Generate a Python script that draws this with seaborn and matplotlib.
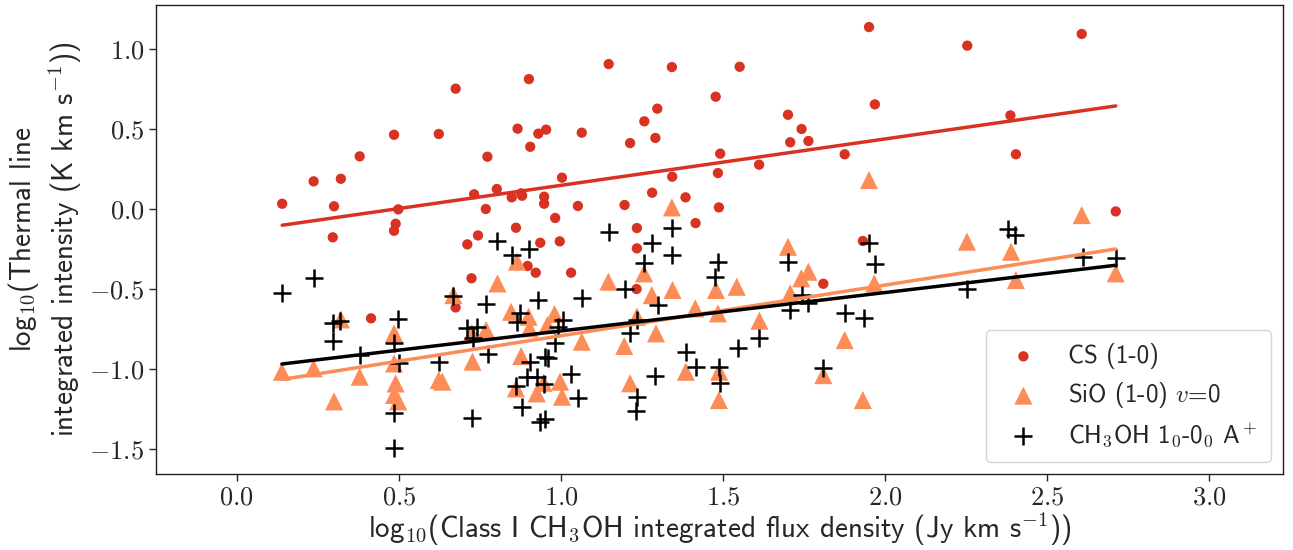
import numpy as np
import pandas as pd
import seaborn as sns
import matplotlib
matplotlib.use("Agg")
import matplotlib.pyplot as plt
from matplotlib.ticker import FuncFormatter

# CS (1-0) points
cs_x = [0.140, 0.237, 0.321, 0.300, 0.296, 0.379, 0.485, 0.498, 0.490, 0.485,
        0.414, 0.623, 0.675, 0.732, 0.773, 0.768, 0.744, 0.802, 0.848, 0.877,
        0.880, 0.861, 0.866, 0.901, 0.905, 0.930, 0.954, 1.064, 1.147, 1.003,
        0.948, 0.948, 0.982, 1.052, 0.936, 0.996, 1.213, 1.257, 1.297, 1.291,
        1.196, 1.281, 1.234, 1.342, 1.343, 1.384, 1.415, 1.477, 1.491, 1.484,
        1.487, 1.551, 1.611, 1.700, 1.707, 1.742, 1.763, 1.875, 1.950, 1.968,
        1.931, 1.809, 2.253, 2.606, 2.386, 2.403, 2.711, 0.711, 0.897, 0.922,
        1.031, 0.724, 0.675, 1.234, 1.233]
cs_y = [0.035, 0.175, 0.191, 0.019, -0.175, 0.331, 0.466, 0.000, -0.090, -0.134,
        -0.681, 0.471, 0.754, 0.094, 0.329, 0.002, -0.163, 0.127, 0.075, 0.100,
        0.085, -0.115, 0.504, 0.814, 0.391, 0.473, 0.498, 0.479, 0.908, 0.198,
        0.079, 0.035, -0.054, 0.021, -0.209, -0.200, 0.414, 0.550, 0.629, 0.446,
        0.027, 0.104, -0.117, 0.889, 0.204, 0.075, -0.086, 0.704, 0.348, 0.227,
        0.012, 0.891, 0.279, 0.591, 0.419, 0.502, 0.427, 0.344, 1.139, 0.656,
        -0.198, -0.465, 1.023, 1.096, 0.587, 0.344, -0.013, -0.219, -0.354, -0.396,
        -0.396, -0.431, -0.613, -0.244, -0.498]

# SiO (1-0) v=0 points
sio_x = [0.139, 0.237, 0.300, 0.321, 0.379, 0.485, 0.485, 0.490, 0.498, 0.485,
         0.623, 0.668, 0.864, 0.804, 1.146, 1.256, 1.280, 1.344, 1.478, 1.542,
         1.414, 1.484, 1.234, 1.293, 1.195, 1.064, 0.846, 0.900, 0.980, 0.958,
         0.903, 0.769, 0.725, 0.727, 0.634, 0.877, 0.861, 0.946, 0.997, 0.925,
         1.003, 1.213, 1.385, 1.488, 1.487, 1.342, 1.950, 2.606, 1.700, 1.763,
         1.741, 1.707, 1.966, 1.612, 1.875, 1.809, 1.931, 2.252, 2.388, 2.403,
         2.711]
sio_y = [-1.015, -0.994, -1.200, -0.688, -1.046, -0.775, -0.963, -1.088, -1.200, -1.160,
         -1.067, -0.536, -0.327, -0.463, -0.452, -0.400, -0.536, -0.504, -0.504, -0.484,
         -0.619, -0.650, -0.671, -0.775, -0.854, -0.827, -0.640, -0.671, -0.654, -0.723,
         -0.744, -0.754, -0.775, -0.952, -1.077, -0.917, -1.119, -1.084, -1.077, -1.150,
         -1.171, -1.087, -1.015, -1.015, -1.192, 0.012, 0.183, -0.036, -0.234, -0.390,
         -0.431, -0.525, -0.463, -0.696, -0.817, -1.036, -1.192, -0.202, -0.265, -0.442,
         -0.400]

# CH3OH 1_0-0_0 A+ points
ch3oh_x = [0.139, 0.237, 0.296, 0.319, 0.296, 0.379, 0.498, 0.485, 0.499, 0.485,
           0.485, 0.623, 0.668, 0.803, 0.900, 0.848, 1.148, 1.343, 1.281, 1.343,
           1.256, 1.483, 1.476, 0.769, 0.928, 1.065, 1.196, 1.299, 0.874, 0.864,
           0.709, 0.740, 0.730, 1.006, 0.992, 1.234, 1.213, 0.982, 0.774, 0.905,
           0.951, 0.960, 1.031, 0.894, 0.925, 0.948, 0.862, 1.052, 0.879, 0.725,
           0.936, 0.951, 1.385, 1.417, 1.291, 1.487, 1.491, 1.234, 1.232, 1.547,
           1.700, 1.950, 1.967, 1.742, 1.763, 1.707, 1.875, 1.933, 1.612, 1.809,
           2.252, 2.380, 2.401, 2.609, 2.711]
ch3oh_y = [-0.525, -0.427, -0.713, -0.696, -0.821, -0.911, -0.688, -0.834, -0.963, -1.271,
           -1.490, -0.956, -0.542, -0.196, -0.250, -0.286, -0.140, -0.119, -0.208, -0.288,
           -0.338, -0.327, -0.421, -0.592, -0.567, -0.556, -0.498, -0.598, -0.650, -0.702,
           -0.744, -0.734, -0.806, -0.692, -0.734, -0.692, -0.775, -0.838, -0.906, -0.952,
           -0.921, -0.930, -1.029, -1.046, -1.046, -1.092, -1.102, -1.181, -1.234, -1.306,
           -1.327, -1.311, -0.890, -0.984, -1.042, -0.984, -1.084, -1.171, -1.261, -0.869,
           -0.331, -0.208, -0.344, -0.536, -0.588, -0.629, -0.650, -0.681, -0.806, -0.994,
           -0.500, -0.125, -0.160, -0.296, -0.302]

# linear fits (slope, intercept)
cs_fit = (0.290, -0.140)
sio_fit = (0.317, -1.107)
ch3oh_fit = (0.240, -1.000)

red = "#d73222"
orange = "#fc8d59"

sns.set_style("ticks")
plt.rcParams["font.family"] = ["cmss10", "DejaVu Sans"]
plt.rcParams["mathtext.fontset"] = "cm"
plt.rcParams["axes.unicode_minus"] = True

fig, ax = plt.subplots(figsize=(12.93, 5.5), dpi=100)
fig.subplots_adjust(left=0.1207, right=0.9923, top=0.9915, bottom=0.1376)

sns.scatterplot(x=cs_x, y=cs_y, ax=ax, color=red, marker="o", s=55,
                edgecolor="none", label="CS (1-0)", zorder=2)
sns.scatterplot(x=sio_x, y=sio_y, ax=ax, color=orange, marker="^", s=170,
                edgecolor="none", label="SiO (1-0) $v$=0", zorder=3)
sns.scatterplot(x=ch3oh_x, y=ch3oh_y, ax=ax, color="black", marker="+", s=150,
                linewidth=1.8, label="CH$_3$OH 1$_0$-0$_0$ A$^+$", zorder=4)

for xs, fit, col in [(cs_x, cs_fit, red), (sio_x, sio_fit, orange), (ch3oh_x, ch3oh_fit, "black")]:
    fx = np.array([min(xs), max(xs)])
    sns.lineplot(x=fx, y=fit[0] * fx + fit[1], ax=ax, color=col, linewidth=2.5, zorder=5)

ax.set_xlim(-0.249, 3.227)
ax.set_ylim(-1.656, 1.279)
ax.set_xticks([0.0, 0.5, 1.0, 1.5, 2.0, 2.5, 3.0])
ax.set_yticks([-1.5, -1.0, -0.5, 0.0, 0.5, 1.0])
fmt = FuncFormatter(lambda v, p: "$%.1f$" % v)
ax.xaxis.set_major_formatter(fmt)
ax.yaxis.set_major_formatter(fmt)
ax.tick_params(labelsize=19, length=5, width=1)
for sp in ax.spines.values():
    sp.set_linewidth(1.0)
    sp.set_color("#222222")

ax.set_xlabel("log$_{10}$(Class I CH$_3$OH integrated flux density (Jy km s$^{-1}$))",
              fontsize=21, labelpad=1)
ax.set_ylabel("log$_{10}$(Thermal line\nintegrated intensity (K km s$^{-1}$))", fontsize=21)

ax.legend(loc="lower right", fontsize=18, labelspacing=0.45, borderpad=0.5,
          frameon=True, fancybox=True)

plt.savefig("out.png", dpi=100)
plt.close()
